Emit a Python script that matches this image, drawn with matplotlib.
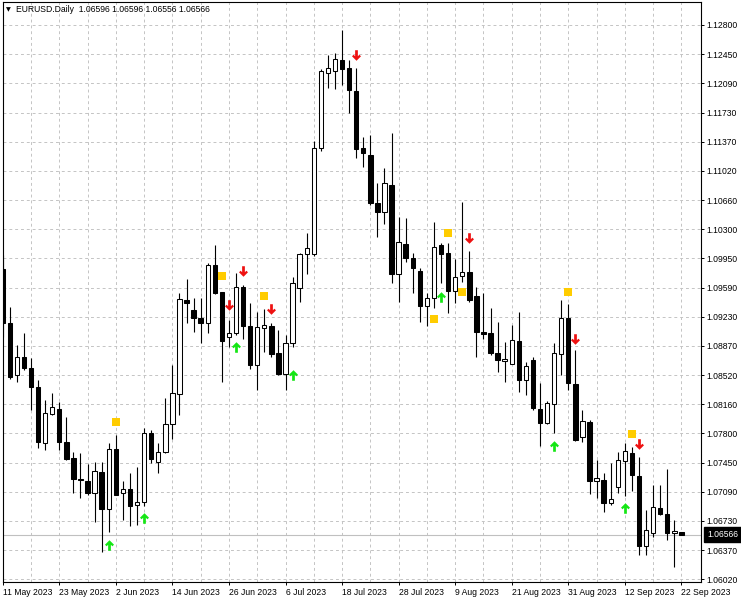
import numpy as np
import matplotlib
matplotlib.use("Agg")
import matplotlib.pyplot as plt
from matplotlib.path import Path
from matplotlib.ticker import FixedLocator

plt.rcParams['font.family'] = ['Liberation Sans', 'DejaVu Sans']

# ---------------- data ----------------
date_labels = ["11 May 2023", "23 May 2023", "2 Jun 2023", "14 Jun 2023", "26 Jun 2023",
               "6 Jul 2023", "18 Jul 2023", "28 Jul 2023", "9 Aug 2023", "21 Aug 2023",
               "31 Aug 2023", "12 Sep 2023", "22 Sep 2023"]
date_label_bars = [0, 8, 16, 24, 32, 40, 48, 56, 64, 72, 80, 88, 96]

price_labels = ["1.06020", "1.06370", "1.06730", "1.07090", "1.07450", "1.07800", "1.08160",
                "1.08520", "1.08870", "1.09230", "1.09590", "1.09950", "1.10300", "1.10660",
                "1.11020", "1.11370", "1.11730", "1.12090", "1.12450", "1.12800"]

open_ = [1.09828, 1.09161, 1.08526, 1.08743, 1.08608, 1.08382, 1.07694, 1.08047, 1.08108, 1.07699,
         1.07503, 1.07248, 1.07224, 1.07080, 1.07338, 1.06876, 1.07613, 1.07073, 1.07122, 1.06929,
         1.06970, 1.07810, 1.07461, 1.07576, 1.07924, 1.08292, 1.09447, 1.09324, 1.09222, 1.09161,
         1.09877, 1.09541, 1.08996, 1.09038, 1.09603, 1.09128, 1.08649, 1.09107, 1.09131, 1.08792,
         1.08538, 1.08915, 1.09591, 1.10012, 1.10012, 1.11310, 1.12232, 1.12264, 1.12395, 1.12293,
         1.12018, 1.11310, 1.11228, 1.10642, 1.10532, 1.10859, 1.09766, 1.10135, 1.09959, 1.09807,
         1.09373, 1.09468, 1.10123, 1.10021, 1.09561, 1.09742, 1.09795, 1.09496, 1.09054, 1.09038,
         1.08800, 1.08694, 1.08661, 1.08947, 1.08464, 1.08710, 1.08104, 1.07932, 1.08170, 1.08784,
         1.09222, 1.08415, 1.07761, 1.07952, 1.07224, 1.07236, 1.06950, 1.07146, 1.07469, 1.07571,
         1.07285, 1.06425, 1.06589, 1.06888, 1.06815, 1.06589, 1.06596]

high = [1.10000, 1.09361, 1.08894, 1.09038, 1.08731, 1.08464, 1.08219, 1.08301, 1.08198, 1.08014,
        1.07584, 1.07564, 1.07429, 1.07461, 1.07461, 1.07687, 1.07789, 1.07224, 1.07326, 1.07399,
        1.07871, 1.07850, 1.07687, 1.08240, 1.08649, 1.09529, 1.09701, 1.09468, 1.09468, 1.09905,
        1.10122, 1.09549, 1.09201, 1.09775, 1.09631, 1.09414, 1.09303, 1.09333, 1.09168, 1.09079,
        1.09017, 1.09733, 1.10021, 1.10266, 1.11404, 1.12281, 1.12456, 1.12485, 1.12763, 1.12395,
        1.12293, 1.11445, 1.11474, 1.10880, 1.11072, 1.11502, 1.10470, 1.10454, 1.10028, 1.09840,
        1.09529, 1.10409, 1.10143, 1.10143, 1.09947, 1.10654, 1.10053, 1.09603, 1.09529, 1.09345,
        1.09180, 1.08935, 1.09140, 1.09303, 1.08689, 1.08747, 1.08424, 1.08210, 1.08915, 1.09447,
        1.09398, 1.08833, 1.08096, 1.07973, 1.07482, 1.07326, 1.07441, 1.07584, 1.07687, 1.07645,
        1.07515, 1.06868, 1.07175, 1.07175, 1.07367, 1.06745, 1.06596]

low = [1.08992, 1.08473, 1.08443, 1.08587, 1.08096, 1.07625, 1.07604, 1.08034, 1.07604, 1.07482,
       1.07073, 1.07011, 1.07052, 1.06724, 1.06355, 1.06601, 1.07046, 1.06745, 1.06671, 1.06683,
       1.06917, 1.07441, 1.07326, 1.07568, 1.07736, 1.08034, 1.09168, 1.09058, 1.08922, 1.09038,
       1.09521, 1.08443, 1.08866, 1.09017, 1.08964, 1.08596, 1.08342, 1.08812, 1.08751, 1.08526,
       1.08342, 1.08873, 1.09426, 1.09766, 1.09987, 1.11281, 1.12047, 1.12035, 1.12088, 1.11740,
       1.11188, 1.11084, 1.10614, 1.10217, 1.10380, 1.09660, 1.09426, 1.09917, 1.09529, 1.09180,
       1.09128, 1.09345, 1.09652, 1.09291, 1.09406, 1.09672, 1.09426, 1.08751, 1.08964, 1.08771,
       1.08566, 1.08443, 1.08655, 1.08321, 1.08280, 1.08096, 1.07654, 1.07924, 1.07810, 1.08526,
       1.08342, 1.07715, 1.07706, 1.07064, 1.07011, 1.06847, 1.06929, 1.07073, 1.07040, 1.07105,
       1.06315, 1.06315, 1.06540, 1.06806, 1.06499, 1.06164, 1.06556]

close = [1.09164, 1.08505, 1.08743, 1.08608, 1.08382, 1.07706, 1.08055, 1.08133, 1.07706, 1.07490,
         1.07245, 1.07242, 1.07080, 1.07347, 1.06876, 1.07613, 1.07052, 1.07122, 1.06917, 1.06970,
         1.07817, 1.07490, 1.07576, 1.07924, 1.08308, 1.09456, 1.09414, 1.09222, 1.09161, 1.09877,
         1.09529, 1.08947, 1.09045, 1.09603, 1.09128, 1.08649, 1.09112, 1.09140, 1.08784, 1.08538,
         1.08915, 1.09660, 1.10012, 1.10082, 1.11310, 1.12264, 1.12293, 1.12404, 1.12281, 1.12026,
         1.11298, 1.11249, 1.10642, 1.10532, 1.10880, 1.09766, 1.10163, 1.09959, 1.09836, 1.09373,
         1.09475, 1.10102, 1.10012, 1.09561, 1.09733, 1.09795, 1.09447, 1.09050, 1.09029, 1.08792,
         1.08710, 1.08722, 1.08956, 1.08464, 1.08636, 1.08117, 1.07932, 1.08178, 1.08800, 1.09222,
         1.08424, 1.07727, 1.07961, 1.07224, 1.07257, 1.06950, 1.07006, 1.07482, 1.07592, 1.07297,
         1.06425, 1.06622, 1.06901, 1.06815, 1.06589, 1.06610, 1.06566]

up_bars = [15, 20, 33, 41, 62, 78, 88]
up_prices = [1.06438, 1.06769, 1.08873, 1.08526, 1.09488, 1.07654, 1.06888]
down_bars = [32, 34, 38, 50, 66, 81, 90]
down_prices = [1.09386, 1.09803, 1.09333, 1.12456, 1.10205, 1.08964, 1.07678]
square_bars = [16, 31, 37, 61, 63, 65, 80, 89]
square_prices = [1.07952, 1.09745, 1.09496, 1.09210, 1.10266, 1.09549, 1.09541, 1.07801]

current_price = 1.06566
title_text = "EURUSD.Daily  1.06596 1.06596 1.06556 1.06566"

# ---------------- layout ----------------
W, H = 741, 600
fig = plt.figure(figsize=(W / 100, H / 100), dpi=100)
ax_left, ax_right, ax_top, ax_bot = 2.5, 701.0, 1.7, 581.5
ax = fig.add_axes([ax_left / W, (H - ax_bot) / H, (ax_right - ax_left) / W, (ax_bot - ax_top) / H])

def px2price(y):
    return 1.0602 + (579.0 - y) * 0.00012283

bar_px = 7.07
x0_px = 2.7
ax.set_xlim((ax_left - x0_px) / bar_px, (ax_right - x0_px) / bar_px)
ax.set_ylim(px2price(ax_bot), px2price(ax_top))

n = len(open_)
xs = np.arange(n)
o = np.array(open_); c = np.array(close); h = np.array(high); l = np.array(low)

# wicks
ax.vlines(xs, l, h, colors='black', linewidth=0.8, zorder=3)
# bodies
bull = c >= o
bottoms = np.minimum(o, c)
heights = np.maximum(np.abs(c - o), 1e-7)
ax.bar(xs[bull], heights[bull], bottom=bottoms[bull], width=0.62, color='white',
       edgecolor='black', linewidth=0.75, zorder=4)
ax.bar(xs[~bull], heights[~bull], bottom=bottoms[~bull], width=0.62, color='black',
       edgecolor='black', linewidth=0.75, zorder=4)

# current price line
ax.axhline(current_price, color='#c0c0c0', linewidth=0.8, zorder=1)

# markers
up_arrow = Path([(0, 1.0), (0.85, 0.15), (0.55, -0.15), (0.26, 0.14), (0.26, -1.0),
                 (-0.26, -1.0), (-0.26, 0.14), (-0.55, -0.15), (-0.85, 0.15), (0, 1.0)],
                [Path.MOVETO] + [Path.LINETO] * 8 + [Path.CLOSEPOLY])
down_arrow = Path(up_arrow.vertices * np.array([1, -1]), up_arrow.codes)
square = Path([(-1, -1), (1, -1), (1, 1), (-1, 1), (-1, -1)],
              [Path.MOVETO, Path.LINETO, Path.LINETO, Path.LINETO, Path.CLOSEPOLY])

ax.plot(up_bars, up_prices, linestyle='none', marker=up_arrow, markersize=7.6,
        color='#14e614', markeredgewidth=0, zorder=5)
ax.plot(down_bars, down_prices, linestyle='none', marker=down_arrow, markersize=7.6,
        color='#ee1111', markeredgewidth=0, zorder=5)
ax.plot(square_bars, square_prices, linestyle='none', marker=square, markersize=5.4,
        color='#ffcc00', markeredgewidth=0, zorder=5)

# grid / ticks
ytick_pos = np.linspace(px2price(579.2), px2price(25.0), len(price_labels))
ax.yaxis.tick_right()
ax.set_yticks(ytick_pos)
ax.set_yticklabels(price_labels)
ax.set_xticks(date_label_bars)
ax.set_xticklabels(date_labels)
for lbl in ax.get_xticklabels():
    lbl.set_horizontalalignment('left')
ax.xaxis.set_minor_locator(FixedLocator([b + 4 for b in date_label_bars]))
ax.tick_params(axis='x', which='major', length=2.5, width=0.7, pad=2.5, labelsize=6.2, colors='black')
ax.tick_params(axis='x', which='minor', length=0)
ax.tick_params(axis='y', which='major', length=2.5, width=0.7, pad=1.5, labelsize=6.2, colors='black')

gkw = dict(color='#c4c4c4', linewidth=0.7, linestyle=(0, (3, 3)))
ax.grid(True, which='major', axis='y', **gkw)
ax.grid(True, which='both', axis='x', **gkw)
ax.set_axisbelow(True)

for s in ax.spines.values():
    s.set_color('black')
    s.set_linewidth(0.8)

# current price box on the axis
ax.annotate("1.06566", xy=(1.0, current_price), xycoords=('axes fraction', 'data'),
            xytext=(4.5, 0), textcoords='offset points', ha='left', va='center',
            fontsize=6.2, color='white',
            bbox=dict(boxstyle='square,pad=0.35', fc='black', ec='black'),
            annotation_clip=False, zorder=10)

# title
fig.text(6 / W, 1 - 10 / H, "\u25BC", fontsize=4.5, family=['DejaVu Sans'], va='center', ha='left')
fig.text(16.5 / W, 1 - 10 / H, title_text, fontsize=6.2, va='center', ha='left', color='black')

fig.savefig("out.png", dpi=100)
